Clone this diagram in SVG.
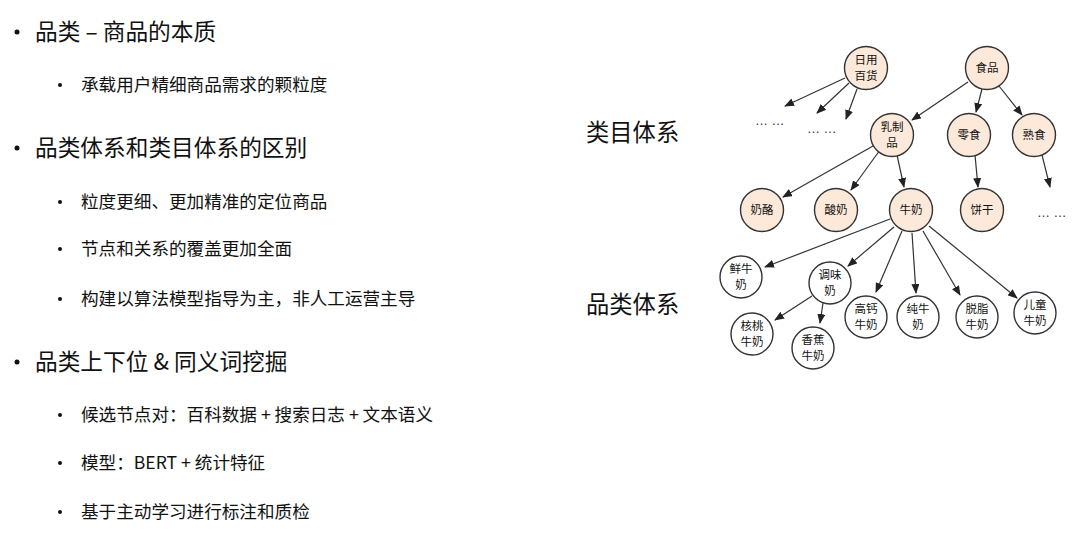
<svg xmlns="http://www.w3.org/2000/svg" width="1080" height="537" viewBox="0 0 1080 537">
<defs>
<marker id="ah" markerUnits="userSpaceOnUse" markerWidth="10" markerHeight="8" refX="9" refY="4" orient="auto">
<path d="M0,0 L10,4 L0,8 z" fill="#222"/>
</marker>
<style>
.t{font-family:"Noto Sans CJK SC","Microsoft YaHei",sans-serif;fill:#111}
.h{font-size:22.7px}
.s{font-size:17.6px}
.lab{font-size:23.3px}
.n{font-size:11.5px;text-anchor:middle}
.dot{font-family:"Liberation Sans",sans-serif;font-size:13px;fill:#333}
.cat{fill:#fce9da;stroke:#333;stroke-width:1.4}
.pin{fill:#fff;stroke:#333;stroke-width:1.4}
.e{stroke:#333;stroke-width:1.2;fill:none;marker-end:url(#ah)}
</style>
</defs>
<rect width="1080" height="537" fill="#fff"/>
<g id="bullets">
<circle cx="17" cy="32" r="2.5" fill="#111"/>
<text class="t h" x="35" y="40">品类 – 商品的本质</text>
<circle cx="60" cy="85" r="2" fill="#111"/>
<text class="t s" x="81" y="91">承载用户精细商品需求的颗粒度</text>
<circle cx="17" cy="148" r="2.5" fill="#111"/>
<text class="t h" x="35" y="156">品类体系和类目体系的区别</text>
<circle cx="60" cy="202" r="2" fill="#111"/>
<text class="t s" x="81" y="208">粒度更细、更加精准的定位商品</text>
<circle cx="60" cy="249" r="2" fill="#111"/>
<text class="t s" x="81" y="255">节点和关系的覆盖更加全面</text>
<circle cx="60" cy="299" r="2" fill="#111"/>
<text class="t s" x="81" y="305">构建以算法模型指导为主，非人工运营主导</text>
<circle cx="17" cy="362" r="2.5" fill="#111"/>
<text class="t h" x="35" y="370">品类上下位 &amp; 同义词挖掘</text>
<circle cx="60" cy="415" r="2" fill="#111"/>
<text class="t s" x="81" y="421">候选节点对：百科数据 + 搜索日志 + 文本语义</text>
<circle cx="60" cy="463" r="2" fill="#111"/>
<text class="t s" x="81" y="469">模型：BERT + 统计特征</text>
<circle cx="60" cy="512" r="2" fill="#111"/>
<text class="t s" x="81" y="518">基于主动学习进行标注和质检</text>
</g>
<g id="labels">
<text class="t lab" x="586" y="141">类目体系</text>
<text class="t lab" x="586" y="313">品类体系</text>
</g>
<g id="connectors">
<line class="e" x1="845" y1="78" x2="785" y2="106"/>
<line class="e" x1="849" y1="83" x2="817" y2="113"/>
<line class="e" x1="857" y1="89" x2="846" y2="119"/>
<line class="e" x1="968" y1="82" x2="912" y2="120"/>
<line class="e" x1="982" y1="89" x2="976" y2="112"/>
<line class="e" x1="999" y1="86" x2="1022" y2="115"/>
<line class="e" x1="873" y1="146" x2="783" y2="197"/>
<line class="e" x1="880" y1="150" x2="851" y2="190"/>
<line class="e" x1="897" y1="155" x2="904" y2="187"/>
<line class="e" x1="975" y1="155" x2="978" y2="187"/>
<line class="e" x1="1042" y1="155" x2="1050" y2="187"/>
<line class="e" x1="890" y1="219" x2="765" y2="267"/>
<line class="e" x1="894" y1="227" x2="848" y2="266"/>
<line class="e" x1="902" y1="231" x2="876" y2="292"/>
<line class="e" x1="912" y1="233" x2="916" y2="293"/>
<line class="e" x1="923" y1="231" x2="960" y2="295"/>
<line class="e" x1="929" y1="226" x2="1017" y2="298"/>
<line class="e" x1="812" y1="296" x2="775" y2="320"/>
<line class="e" x1="823" y1="303" x2="820" y2="323"/>
</g>
<g id="ellipses">
<text class="dot" x="755" y="125">… …</text>
<text class="dot" x="807" y="133">… …</text>
<text class="dot" x="1037" y="217">… …</text>
</g>
<g id="n-riyong"><circle class="cat" cx="866" cy="68" r="21.5"/><text class="t n" x="866" y="64">日用</text><text class="t n" x="866" y="80">百货</text></g>
<g id="n-shipin"><circle class="cat" cx="987" cy="68" r="21.5"/><text class="t n" x="987" y="72">食品</text></g>
<g id="n-ruzhipin"><circle class="cat" cx="892" cy="135" r="21.5"/><text class="t n" x="892" y="131">乳制</text><text class="t n" x="892" y="147">品</text></g>
<g id="n-lingshi"><circle class="cat" cx="969" cy="135" r="21.5"/><text class="t n" x="969" y="139">零食</text></g>
<g id="n-shushi"><circle class="cat" cx="1034" cy="135" r="21.5"/><text class="t n" x="1034" y="139">熟食</text></g>
<g id="n-nailao"><circle class="cat" cx="762" cy="210" r="21.5"/><text class="t n" x="762" y="214">奶酪</text></g>
<g id="n-suannai"><circle class="cat" cx="836" cy="210" r="21.5"/><text class="t n" x="836" y="214">酸奶</text></g>
<g id="n-niunai"><circle class="cat" cx="911" cy="210" r="21.5"/><text class="t n" x="911" y="214">牛奶</text></g>
<g id="n-binggan"><circle class="cat" cx="982" cy="210" r="21.5"/><text class="t n" x="982" y="214">饼干</text></g>
<g id="n-xian"><circle class="pin" cx="741" cy="277" r="21"/><text class="t n" x="741" y="273">鲜牛</text><text class="t n" x="741" y="289">奶</text></g>
<g id="n-tiaowei"><circle class="pin" cx="830" cy="283" r="21"/><text class="t n" x="830" y="279">调味</text><text class="t n" x="830" y="295">奶</text></g>
<g id="n-gaogai"><circle class="pin" cx="866" cy="317" r="21"/><text class="t n" x="866" y="313">高钙</text><text class="t n" x="866" y="329">牛奶</text></g>
<g id="n-chun"><circle class="pin" cx="918" cy="317" r="21"/><text class="t n" x="918" y="313">纯牛</text><text class="t n" x="918" y="329">奶</text></g>
<g id="n-tuozhi"><circle class="pin" cx="977" cy="317" r="21"/><text class="t n" x="977" y="313">脱脂</text><text class="t n" x="977" y="329">牛奶</text></g>
<g id="n-ertong"><circle class="pin" cx="1035" cy="313" r="21"/><text class="t n" x="1035" y="309">儿童</text><text class="t n" x="1035" y="325">牛奶</text></g>
<g id="n-hetao"><circle class="pin" cx="752" cy="334" r="21"/><text class="t n" x="752" y="330">核桃</text><text class="t n" x="752" y="346">牛奶</text></g>
<g id="n-xiangjiao"><circle class="pin" cx="813" cy="348" r="21"/><text class="t n" x="813" y="344">香蕉</text><text class="t n" x="813" y="360">牛奶</text></g>
</svg>
